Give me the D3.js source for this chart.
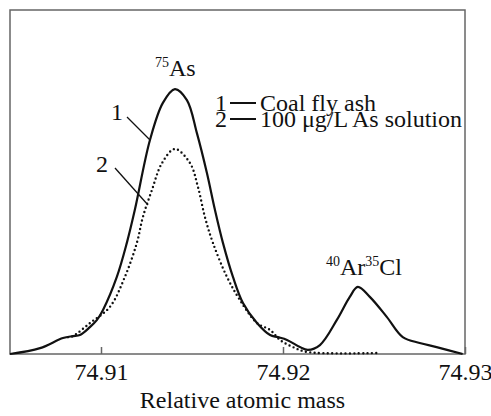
<!DOCTYPE html>
<html>
<head>
<meta charset="utf-8">
<script src="https://cdn.jsdelivr.net/npm/d3@7"></script>
<style>
  body { margin: 0; background: #fff; }
  text { font-family: "Liberation Serif", "Times New Roman", serif; fill: #111; }
</style>
</head>
<body>
<svg id="chart"></svg>
<script>
// relative atomic mass of each sample point
const massCoal = [74.905, 74.90665, 74.90791, 74.90846, 74.90884, 74.90939, 74.90978, 74.91011,
  74.91087, 74.91142, 74.91186, 74.91269, 74.9134, 74.91406, 74.91472, 74.91527, 74.91582,
  74.91626, 74.9167, 74.91725, 74.9178, 74.91857, 74.91929, 74.91972, 74.92022, 74.92093,
  74.92137, 74.92203, 74.92296, 74.92367, 74.92411, 74.92477, 74.9257, 74.92658, 74.92751,
  74.92844, 74.92987];
// intensity (relative units) for curve 1, coal fly ash
const signalCoal = [0, 1.7, 4.65, 5.2, 5.5, 7.8, 9.9, 12.8,
  22.4, 32.3, 41.9, 62.2, 73.0, 77.0, 73.8, 64.2, 52.6,
  41.9, 32.3, 22.4, 14.8, 9.0, 5.5, 4.9, 4.1, 2.0,
  1.2, 2.6, 9.9, 16.6, 19.5, 16.6, 10.8, 4.9, 3.2,
  2.0, 0];

const massStd = [74.90818, 74.90846, 74.90939, 74.91049, 74.91131, 74.91197, 74.9123, 74.9128,
  74.91335, 74.91406, 74.91489, 74.91533, 74.91571, 74.91615, 74.91692, 74.91763, 74.91857,
  74.91929, 74.91983, 74.92055, 74.92132, 74.92516];
// curve 2, 100 ug/L As standard solution
const signalStd = [4.9, 5.2, 9.0, 13.7, 22.4, 32.3, 39.8, 47.7,
  55.5, 59.6, 55.5, 48.5, 39.8, 32.3, 22.4, 15.7, 9.0,
  7.0, 4.1, 2.0, 0.6, 0.3];

const xTicks = [74.91, 74.92, 74.93];
const legendLabels = ["Coal fly ash", "100 \u03bcg/L As solution"];

let width = 491;
let height = 416;
let plotLeft = 10, plotRight = 465, plotTop = 10, plotBottom = 354;
let fontSize = "24px";

let svg = d3.select("#chart")
  .attr("width", width)
  .attr("height", height);

let xScale = d3.scaleLinear()
  .domain([74.905, 74.930])
  .range([plotLeft, plotRight]);

let yScale = d3.scaleLinear()
  .domain([0, 100])
  .range([plotBottom, plotTop]);

// frame
svg.append("rect")
  .attr("x", plotLeft)
  .attr("y", plotTop)
  .attr("width", plotRight - plotLeft)
  .attr("height", plotBottom - plotTop)
  .attr("fill", "none")
  .attr("stroke", "#666")
  .attr("stroke-width", 1.5);

// x axis, ticks point inward
let xAxis = d3.axisBottom(xScale)
  .tickValues(xTicks)
  .tickFormat(d3.format(".2f"))
  .tickSizeInner(-7)
  .tickSizeOuter(0);

let gx = svg.append("g")
  .attr("transform", "translate(0," + plotBottom + ")")
  .call(xAxis);
gx.select(".domain").remove();
gx.selectAll(".tick line").attr("stroke", "#666").attr("stroke-width", 1.5);
gx.selectAll(".tick text")
  .attr("y", 26)
  .attr("dy", 0)
  .style("font-size", fontSize)
  .style("font-family", "'Liberation Serif', serif")
  .attr("fill", "#222");

svg.append("text")
  .attr("x", (plotLeft + plotRight) / 2 + 5)
  .attr("y", 408)
  .attr("text-anchor", "middle")
  .style("font-size", fontSize)
  .text("Relative atomic mass");

// curves
let line = d3.line()
  .x(d => xScale(d[0]))
  .y(d => yScale(d[1]))
  .curve(d3.curveCatmullRom.alpha(0.5));

svg.append("path")
  .datum(d3.zip(massStd, signalStd))
  .attr("d", line)
  .attr("fill", "none")
  .attr("stroke", "#111")
  .attr("stroke-width", 2.4)
  .attr("stroke-linecap", "round")
  .attr("stroke-dasharray", "0 4.4");

svg.append("path")
  .datum(d3.zip(massCoal, signalCoal))
  .attr("d", line)
  .attr("fill", "none")
  .attr("stroke", "#111")
  .attr("stroke-width", 2.2);

// peak labels
let as = svg.append("text").attr("x", 155).attr("y", 76).style("font-size", fontSize);
as.append("tspan").text("75").style("font-size", "14px").attr("dy", -9);
as.append("tspan").text("As").attr("dy", 9);

let arcl = svg.append("text").attr("x", 326).attr("y", 275).style("font-size", fontSize);
arcl.append("tspan").text("40").style("font-size", "14px").attr("dy", -9);
arcl.append("tspan").text("Ar").attr("dy", 9);
arcl.append("tspan").text("35").style("font-size", "14px").attr("dy", -9);
arcl.append("tspan").text("Cl").attr("dy", 9);

// curve number pointers
svg.append("text").attr("x", 117).attr("y", 120).attr("text-anchor", "middle")
  .style("font-size", fontSize).text("1");
svg.append("line").attr("x1", 127).attr("y1", 117).attr("x2", 150).attr("y2", 140)
  .attr("stroke", "#111").attr("stroke-width", 1.3);
svg.append("text").attr("x", 102).attr("y", 172).attr("text-anchor", "middle")
  .style("font-size", fontSize).text("2");
svg.append("line").attr("x1", 115).attr("y1", 168).attr("x2", 148).attr("y2", 205)
  .attr("stroke", "#111").attr("stroke-width", 1.3);

// legend
legendLabels.forEach((label, i) => {
  let yPos = 111 + i * 16;
  svg.append("text").attr("x", 215).attr("y", yPos).style("font-size", fontSize).text(i + 1);
  svg.append("line").attr("x1", 230).attr("x2", 256)
    .attr("y1", yPos - 8).attr("y2", yPos - 8)
    .attr("stroke", "#111").attr("stroke-width", 2);
  svg.append("text").attr("x", 260).attr("y", yPos).style("font-size", fontSize)
    .text(label);
});
</script>
</body>
</html>
